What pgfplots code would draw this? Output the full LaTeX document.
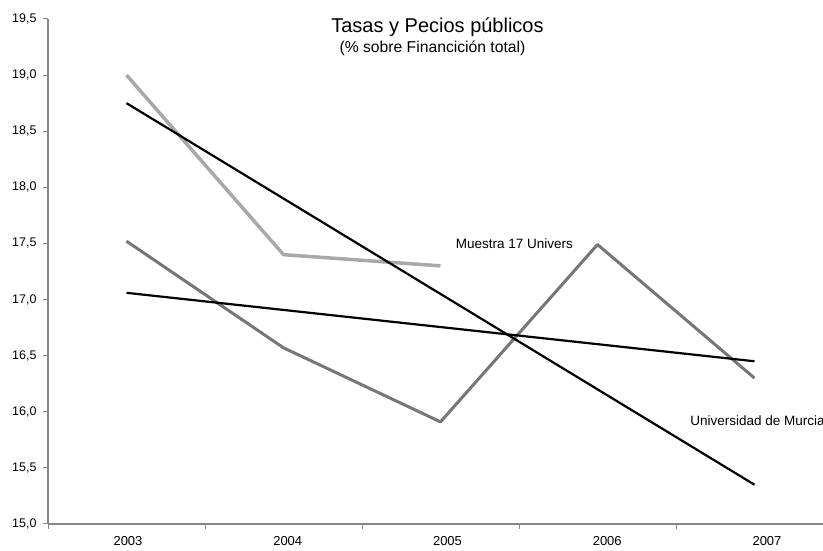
\documentclass[border=0pt]{standalone}
\usepackage{pgfplots}
\pgfplotsset{compat=1.18}
\usepackage{fontspec}
\setmainfont{Liberation Sans}
\definecolor{lightg}{RGB}{168,168,168}
\definecolor{darkg}{RGB}{118,118,118}
\definecolor{axisg}{RGB}{134,134,134}
\begin{document}
\begin{tikzpicture}[x=1pt,y=1pt]
\useasboundingbox (0,0) rectangle (823,551);
\clip (0,0) rectangle (823,551);
\begin{axis}[
  at={(48pt,27pt)}, anchor=south west,
  scale only axis, width=785pt, height=505pt,
  xmin=2002.5, xmax=2007.5, ymin=15, ymax=19.5,
  clip=false,
  axis x line*=bottom, axis y line*=left,
  axis line style={-, axisg, line width=1.5pt},
  xtick={2002.5,2003.5,2004.5,2005.5,2006.5,2007.5},
  x tick label as interval,
  xticklabels={2003,2004,2005,2006,2007},
  ytick={15,15.5,16,16.5,17,17.5,18,18.5,19,19.5},
  yticklabel style={/pgf/number format/fixed, /pgf/number format/fixed zerofill, /pgf/number format/precision=1, /pgf/number format/use comma, /pgf/number format/assume math mode=true, font=\fontsize{12.5}{15}\selectfont, xshift=-3pt},
  tick style={axisg, line width=1pt},
  major tick length=5pt,
  tick align=outside,
  xticklabel style={font=\fontsize{13}{15}\selectfont, yshift=-4pt, xshift={(1.5+2.75*\ticknum)*1pt}},
  line join=round,
]
\addplot[lightg, line width=3.5pt, mark=none] coordinates {(2003,19.0)(2004,17.4)(2005,17.3)};
\addplot[darkg, line width=3pt, mark=none] coordinates {(2003,17.52)(2004,16.57)(2005,15.91)(2006,17.49)(2007,16.30)};
\addplot[black, line width=2.2pt, mark=none] coordinates {(2003,18.75)(2007,15.35)};
\addplot[black, line width=2.2pt, mark=none] coordinates {(2003,17.06)(2007,16.45)};
\node[font=\fontsize{13.5}{16}\selectfont] at (axis cs:2005.47,17.50) {Muestra 17 Univers};
\node[anchor=west, font=\fontsize{13.5}{16}\selectfont, inner sep=0pt] at (axis cs:2006.59,15.92) {Universidad de Murcia};
\end{axis}
\node[anchor=base, font=\fontsize{20}{24}\selectfont] at (437.5,518) {Tasas y Pecios públicos};
\node[anchor=base, font=\fontsize{15.7}{19}\selectfont] at (432.5,498) {(\% sobre Financición total)};
\end{tikzpicture}
\end{document}
